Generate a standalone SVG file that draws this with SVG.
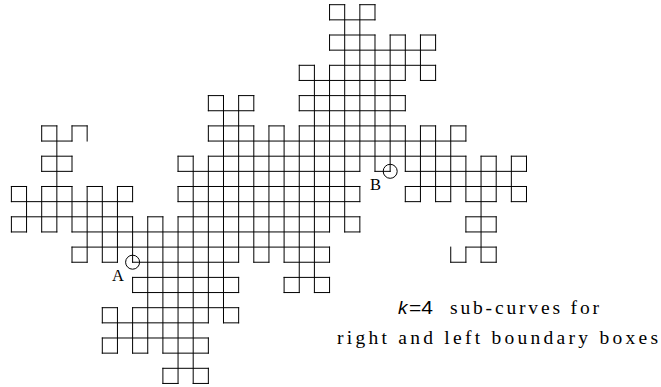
<svg xmlns="http://www.w3.org/2000/svg" width="661" height="387" viewBox="0 0 661 387">
<style>
.c{fill:none;stroke:#000;stroke-width:1;stroke-linecap:square;vector-effect:non-scaling-stroke}
.m{fill:none;stroke:#000;stroke-width:1}
.t{font-family:"Liberation Serif","Times New Roman",serif;fill:#000}
.s{font-family:"Liberation Sans",Arial,sans-serif;fill:#000}
</style>
<rect width="661" height="387" fill="#fff"/>
<g id="curve" transform="translate(11.4 4.7) scale(15.15)">
<path class="c" d="M21 0H22M23 0H24M21 1H24M21 2H24M25 2H26M27 2H28M21 3H28M19 4H20M21 4H28M19 5H26M27 5H28M13 6H14M15 6H16M19 6H26M13 7H16M19 7H26M2 8H3M4 8H5M13 8H16M17 8H18M19 8H26M27 8H28M29 8H30M2 9H4M13 9H30M2 10H4M11 10H12M13 10H30M31 10H32M33 10H34M2 11H4M11 11H23M24 11H25M26 11H34M0 12H1M2 12H4M5 12H6M7 12H8M11 12H23M26 12H34M0 13H8M11 13H23M26 13H27M28 13H29M30 13H32M33 13H34M0 14H8M9 14H10M11 14H23M30 14H32M0 15H1M2 15H3M4 15H21M22 15H23M30 15H32M4 16H21M30 16H32M4 17H5M6 17H7M8 17H15M16 17H17M18 17H21M29 17H30M31 17H32M8 18H15M18 18H21M8 19H15M18 19H19M20 19H21M6 20H7M8 20H15M6 21H13M14 21H15M6 22H13M6 23H7M8 23H9M10 23H13M10 24H13M10 25H11M12 25H13"/>
<path class="c" d="M0 12V13M0 14V15M1 12V15M2 8V9M2 10V11M2 12V15M3 8V15M4 8V9M4 10V11M4 12V15M4 16V17M5 8V9M5 12V17M6 12V17M6 20V21M6 22V23M7 12V17M7 20V23M8 12V13M8 14V17M8 18V19M8 20V23M9 14V23M10 14V23M10 24V25M11 10V11M11 12V13M11 14V25M12 10V25M13 6V7M13 8V9M13 10V21M13 22V23M13 24V25M14 6V21M15 6V17M15 18V19M15 20V21M16 6V7M16 8V17M17 8V17M18 8V17M18 18V19M19 4V5M19 6V7M19 8V19M20 4V19M21 0V1M21 2V3M21 4V15M21 16V17M21 18V19M22 0V15M23 0V11M23 12V13M23 14V15M24 0V1M24 2V11M25 2V11M26 2V5M26 6V7M26 8V11M26 12V13M27 2V5M27 8V13M28 2V3M28 4V5M28 8V13M29 8V13M29 16V17M30 8V9M30 10V13M30 14V15M30 16V17M31 10V17M32 10V13M32 14V15M32 16V17M33 10V13M34 10V11M34 12V13"/>
</g>
<g id="markers">
<circle class="m" cx="132.6" cy="262.2" r="7"/>
<circle class="m" cx="390.2" cy="171.3" r="7"/>
</g>
<g id="labels">
<text class="t" x="112" y="281" font-size="16.5">A</text>
<text class="t" x="370" y="189.5" font-size="16.5">B</text>
<text x="398" y="313.5" font-size="19" class="s" font-style="italic">k</text>
<text x="409" y="313.5" font-size="19" class="s" textLength="24" lengthAdjust="spacingAndGlyphs">=4</text>
<text class="t" x="450" y="313.5" font-size="19.5" textLength="149" lengthAdjust="spacing">sub-curves for</text>
<text class="t" x="337" y="343.5" font-size="19.5" textLength="321" lengthAdjust="spacing">right and left boundary boxes</text>
</g>
</svg>
